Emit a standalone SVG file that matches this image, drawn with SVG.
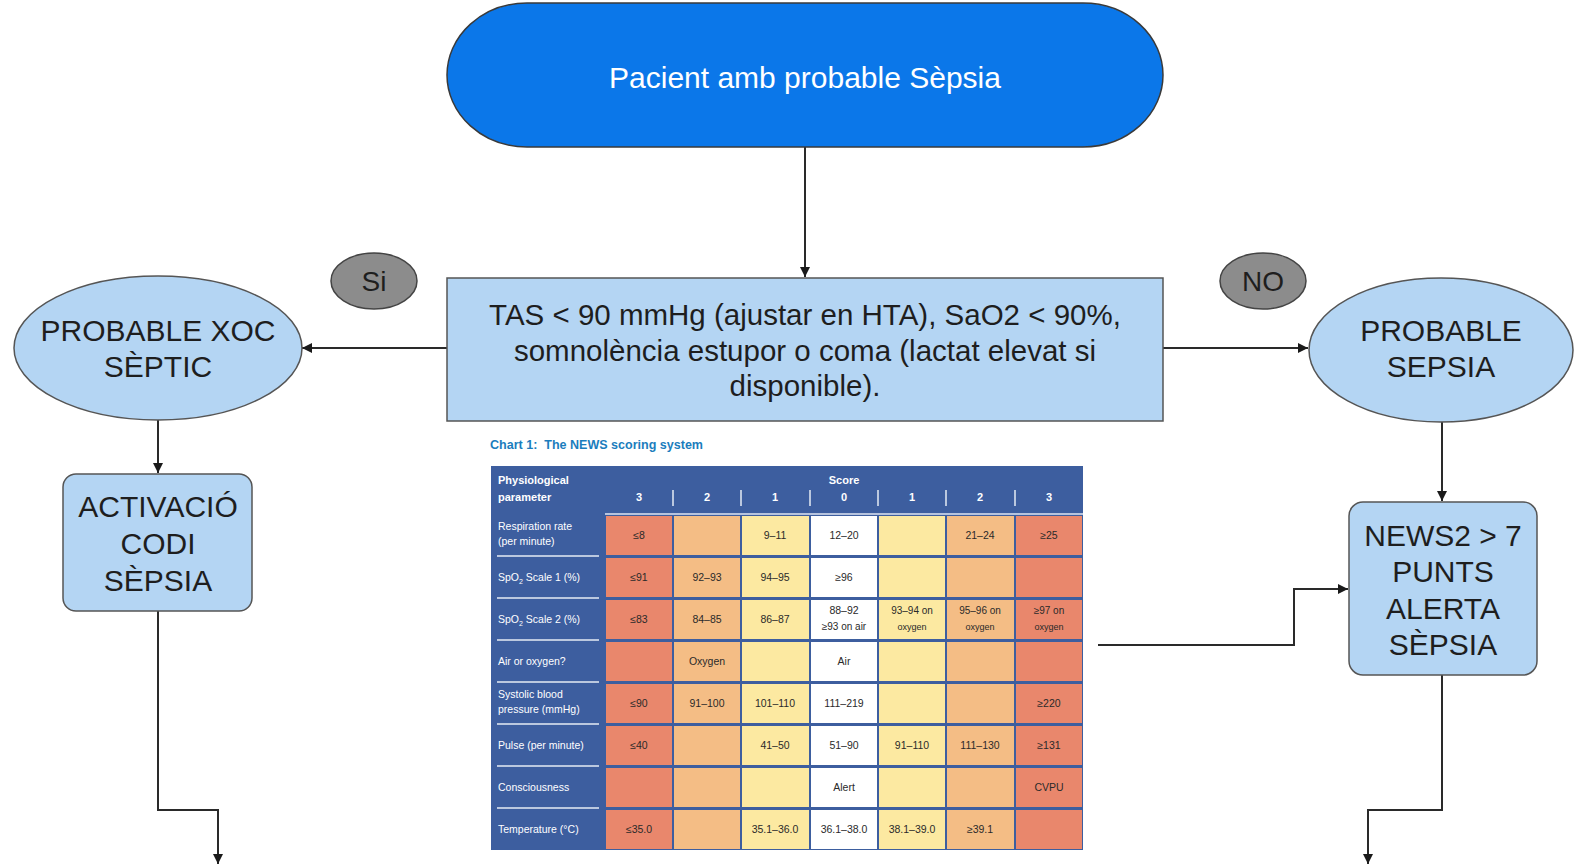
<svg xmlns="http://www.w3.org/2000/svg" width="1575" height="864" viewBox="0 0 1575 864">
<style>
.t{font-family:"Liberation Sans",Arial,sans-serif;fill:#1e1e1e;text-anchor:middle}
.big{font-size:30px}
.mid{font-size:28px}
.dec{font-size:29.5px}
.node{fill:#b4d5f3;stroke:#555;stroke-width:1.5}
.lbl{fill:#8c8c8c;stroke:#444;stroke-width:1.5}
.conn{fill:none;stroke:#2a2a2a;stroke-width:2}
.ct{font-family:"Liberation Sans",Arial,sans-serif;font-size:10.5px;fill:#2a2a2a;text-anchor:middle}
.ht{font-family:"Liberation Sans",Arial,sans-serif;font-size:10.5px;fill:#fff}
.hb{font-family:"Liberation Sans",Arial,sans-serif;font-size:11px;font-weight:bold;fill:#fff}
.r{fill:#e9876c}.o{fill:#f4bd85}.y{fill:#fce9a1}.w{fill:#fff}
</style>
<defs>
<marker id="ah" viewBox="0 0 10 10" refX="10" refY="5" markerWidth="10" markerHeight="10" markerUnits="userSpaceOnUse" orient="auto">
<path d="M0,0 L10,5 L0,10 z" fill="#1a1a1a"/>
</marker>
</defs>

<g id="connectors">
<path class="conn" d="M805,147 V277" marker-end="url(#ah)"/>
<path class="conn" d="M447,348 H302" marker-end="url(#ah)"/>
<path class="conn" d="M1163,348 H1308" marker-end="url(#ah)"/>
<path class="conn" d="M158,420 V473" marker-end="url(#ah)"/>
<path class="conn" d="M1442,422 V501" marker-end="url(#ah)"/>
<path class="conn" d="M1098,645 H1294 V589 H1348" marker-end="url(#ah)"/>
<path class="conn" d="M158,611 V810 H218 V864" marker-end="url(#ah)"/>
<path class="conn" d="M1442,675 V810 H1368 V864" marker-end="url(#ah)"/>
</g>

<g id="start">
<rect x="447" y="3" width="716" height="144" rx="80" ry="72" fill="#0b77e9" stroke="#3a3a3a" stroke-width="1.5"/>
<text class="t" x="805" y="88" style="fill:#fff;font-size:30px">Pacient amb probable Sèpsia</text>
</g>

<g id="decision">
<rect class="node" x="447" y="278" width="716" height="143"/>
<text class="t dec" x="805" y="325">TAS &lt; 90 mmHg (ajustar en HTA), SaO2 &lt; 90%,</text>
<text class="t dec" x="805" y="361">somnolència estupor o coma (lactat elevat si</text>
<text class="t dec" x="805" y="396">disponible).</text>
</g>

<g id="label-si">
<ellipse class="lbl" cx="374" cy="281" rx="43" ry="28"/>
<text class="t mid" x="374" y="291">Si</text>
</g>

<g id="label-no">
<ellipse class="lbl" cx="1263" cy="281" rx="43" ry="28"/>
<text class="t mid" x="1263" y="291">NO</text>
</g>

<g id="xoc">
<ellipse class="node" cx="158" cy="348" rx="144" ry="72"/>
<text class="t big" x="158" y="341">PROBABLE XOC</text>
<text class="t big" x="158" y="377">SÈPTIC</text>
</g>

<g id="sepsia">
<ellipse class="node" cx="1441" cy="350" rx="132" ry="72"/>
<text class="t big" x="1441" y="341">PROBABLE</text>
<text class="t big" x="1441" y="377">SEPSIA</text>
</g>

<g id="activacio">
<rect class="node" x="63" y="474" width="189" height="137" rx="13"/>
<text class="t big" x="158" y="517">ACTIVACIÓ</text>
<text class="t big" x="158" y="554">CODI</text>
<text class="t big" x="158" y="591">SÈPSIA</text>
</g>

<g id="news2">
<rect class="node" x="1349" y="502" width="188" height="173" rx="14"/>
<text class="t big" x="1443" y="546">NEWS2 &gt; 7</text>
<text class="t big" x="1443" y="582">PUNTS</text>
<text class="t big" x="1443" y="619">ALERTA</text>
<text class="t big" x="1443" y="655">SÈPSIA</text>
</g>

<g id="news-chart">
<text x="490" y="449" font-family="'Liberation Sans',Arial,sans-serif" font-size="12.5" font-weight="bold" fill="#1b7dbd" textLength="213" lengthAdjust="spacingAndGlyphs">Chart 1:&#160; The NEWS scoring system</text>
<rect x="491" y="466" width="592" height="384" fill="#3d5e9f"/>
<rect class="r" x="606" y="516" width="66" height="39"/><rect class="o" x="674" y="516" width="66" height="39"/><rect class="y" x="742" y="516" width="67" height="39"/><rect class="w" x="811" y="516" width="66" height="39"/><rect class="y" x="879" y="516" width="66" height="39"/><rect class="o" x="947" y="516" width="67" height="39"/><rect class="r" x="1016" y="516" width="66" height="39"/>
<rect class="r" x="606" y="558" width="66" height="39"/><rect class="o" x="674" y="558" width="66" height="39"/><rect class="y" x="742" y="558" width="67" height="39"/><rect class="w" x="811" y="558" width="66" height="39"/><rect class="y" x="879" y="558" width="66" height="39"/><rect class="o" x="947" y="558" width="67" height="39"/><rect class="r" x="1016" y="558" width="66" height="39"/>
<rect class="r" x="606" y="600" width="66" height="39"/><rect class="o" x="674" y="600" width="66" height="39"/><rect class="y" x="742" y="600" width="67" height="39"/><rect class="w" x="811" y="600" width="66" height="39"/><rect class="y" x="879" y="600" width="66" height="39"/><rect class="o" x="947" y="600" width="67" height="39"/><rect class="r" x="1016" y="600" width="66" height="39"/>
<rect class="r" x="606" y="642" width="66" height="39"/><rect class="o" x="674" y="642" width="66" height="39"/><rect class="y" x="742" y="642" width="67" height="39"/><rect class="w" x="811" y="642" width="66" height="39"/><rect class="y" x="879" y="642" width="66" height="39"/><rect class="o" x="947" y="642" width="67" height="39"/><rect class="r" x="1016" y="642" width="66" height="39"/>
<rect class="r" x="606" y="684" width="66" height="39"/><rect class="o" x="674" y="684" width="66" height="39"/><rect class="y" x="742" y="684" width="67" height="39"/><rect class="w" x="811" y="684" width="66" height="39"/><rect class="y" x="879" y="684" width="66" height="39"/><rect class="o" x="947" y="684" width="67" height="39"/><rect class="r" x="1016" y="684" width="66" height="39"/>
<rect class="r" x="606" y="726" width="66" height="39"/><rect class="o" x="674" y="726" width="66" height="39"/><rect class="y" x="742" y="726" width="67" height="39"/><rect class="w" x="811" y="726" width="66" height="39"/><rect class="y" x="879" y="726" width="66" height="39"/><rect class="o" x="947" y="726" width="67" height="39"/><rect class="r" x="1016" y="726" width="66" height="39"/>
<rect class="r" x="606" y="768" width="66" height="39"/><rect class="o" x="674" y="768" width="66" height="39"/><rect class="y" x="742" y="768" width="67" height="39"/><rect class="w" x="811" y="768" width="66" height="39"/><rect class="y" x="879" y="768" width="66" height="39"/><rect class="o" x="947" y="768" width="67" height="39"/><rect class="r" x="1016" y="768" width="66" height="39"/>
<rect class="r" x="606" y="810" width="66" height="39"/><rect class="o" x="674" y="810" width="66" height="39"/><rect class="y" x="742" y="810" width="67" height="39"/><rect class="w" x="811" y="810" width="66" height="39"/><rect class="y" x="879" y="810" width="66" height="39"/><rect class="o" x="947" y="810" width="67" height="39"/><rect class="r" x="1016" y="810" width="66" height="39"/>

<g stroke="#e6ecf5" stroke-width="1.5">
<line x1="497" y1="556" x2="599" y2="556"/><line x1="497" y1="598" x2="599" y2="598"/><line x1="497" y1="640" x2="599" y2="640"/><line x1="497" y1="682" x2="599" y2="682"/><line x1="497" y1="724" x2="599" y2="724"/><line x1="497" y1="766" x2="599" y2="766"/><line x1="497" y1="808" x2="599" y2="808"/>
<line x1="673" y1="490" x2="673" y2="506"/><line x1="741" y1="490" x2="741" y2="506"/><line x1="810" y1="490" x2="810" y2="506"/><line x1="878" y1="490" x2="878" y2="506"/><line x1="946" y1="490" x2="946" y2="506"/><line x1="1015" y1="490" x2="1015" y2="506"/>
</g>
<line x1="605" y1="514" x2="1083" y2="514" stroke="#dfe6f2" stroke-width="1.5"/>

<text class="hb" x="498" y="484">Physiological</text>
<text class="hb" x="498" y="501">parameter</text>
<text class="hb" x="844" y="484" text-anchor="middle">Score</text>
<g class="hb" text-anchor="middle">
<text x="639" y="501">3</text><text x="707" y="501">2</text><text x="775" y="501">1</text><text x="844" y="501">0</text><text x="912" y="501">1</text><text x="980" y="501">2</text><text x="1049" y="501">3</text>
</g>

<g class="ht">
<text x="498" y="530">Respiration rate</text><text x="498" y="545">(per minute)</text>
<text x="498" y="581">SpO<tspan font-size="7" dy="3">2</tspan><tspan dy="-3"> Scale 1 (%)</tspan></text>
<text x="498" y="623">SpO<tspan font-size="7" dy="3">2</tspan><tspan dy="-3"> Scale 2 (%)</tspan></text>
<text x="498" y="665">Air or oxygen?</text>
<text x="498" y="698">Systolic blood</text><text x="498" y="713">pressure (mmHg)</text>
<text x="498" y="749">Pulse (per minute)</text>
<text x="498" y="791">Consciousness</text>
<text x="498" y="833">Temperature (°C)</text>
</g>

<g class="ct">
<text x="639" y="539">≤8</text><text x="775" y="539">9–11</text><text x="844" y="539">12–20</text><text x="980" y="539">21–24</text><text x="1049" y="539">≥25</text>
<text x="639" y="581">≤91</text><text x="707" y="581">92–93</text><text x="775" y="581">94–95</text><text x="844" y="581">≥96</text>
<text x="639" y="623">≤83</text><text x="707" y="623">84–85</text><text x="775" y="623">86–87</text>
<text x="844" y="614">88–92</text><text x="844" y="630" font-size="10">≥93 on air</text>
<text x="912" y="614" font-size="10">93–94 on</text><text x="912" y="630" font-size="9">oxygen</text>
<text x="980" y="614" font-size="10">95–96 on</text><text x="980" y="630" font-size="9">oxygen</text>
<text x="1049" y="614" font-size="10">≥97 on</text><text x="1049" y="630" font-size="9">oxygen</text>
<text x="707" y="665">Oxygen</text><text x="844" y="665">Air</text>
<text x="639" y="707">≤90</text><text x="707" y="707">91–100</text><text x="775" y="707">101–110</text><text x="844" y="707">111–219</text><text x="1049" y="707">≥220</text>
<text x="639" y="749">≤40</text><text x="775" y="749">41–50</text><text x="844" y="749">51–90</text><text x="912" y="749">91–110</text><text x="980" y="749">111–130</text><text x="1049" y="749">≥131</text>
<text x="844" y="791">Alert</text><text x="1049" y="791">CVPU</text>
<text x="639" y="833">≤35.0</text><text x="775" y="833">35.1–36.0</text><text x="844" y="833">36.1–38.0</text><text x="912" y="833">38.1–39.0</text><text x="980" y="833">≥39.1</text>
</g>
</g>
</svg>
